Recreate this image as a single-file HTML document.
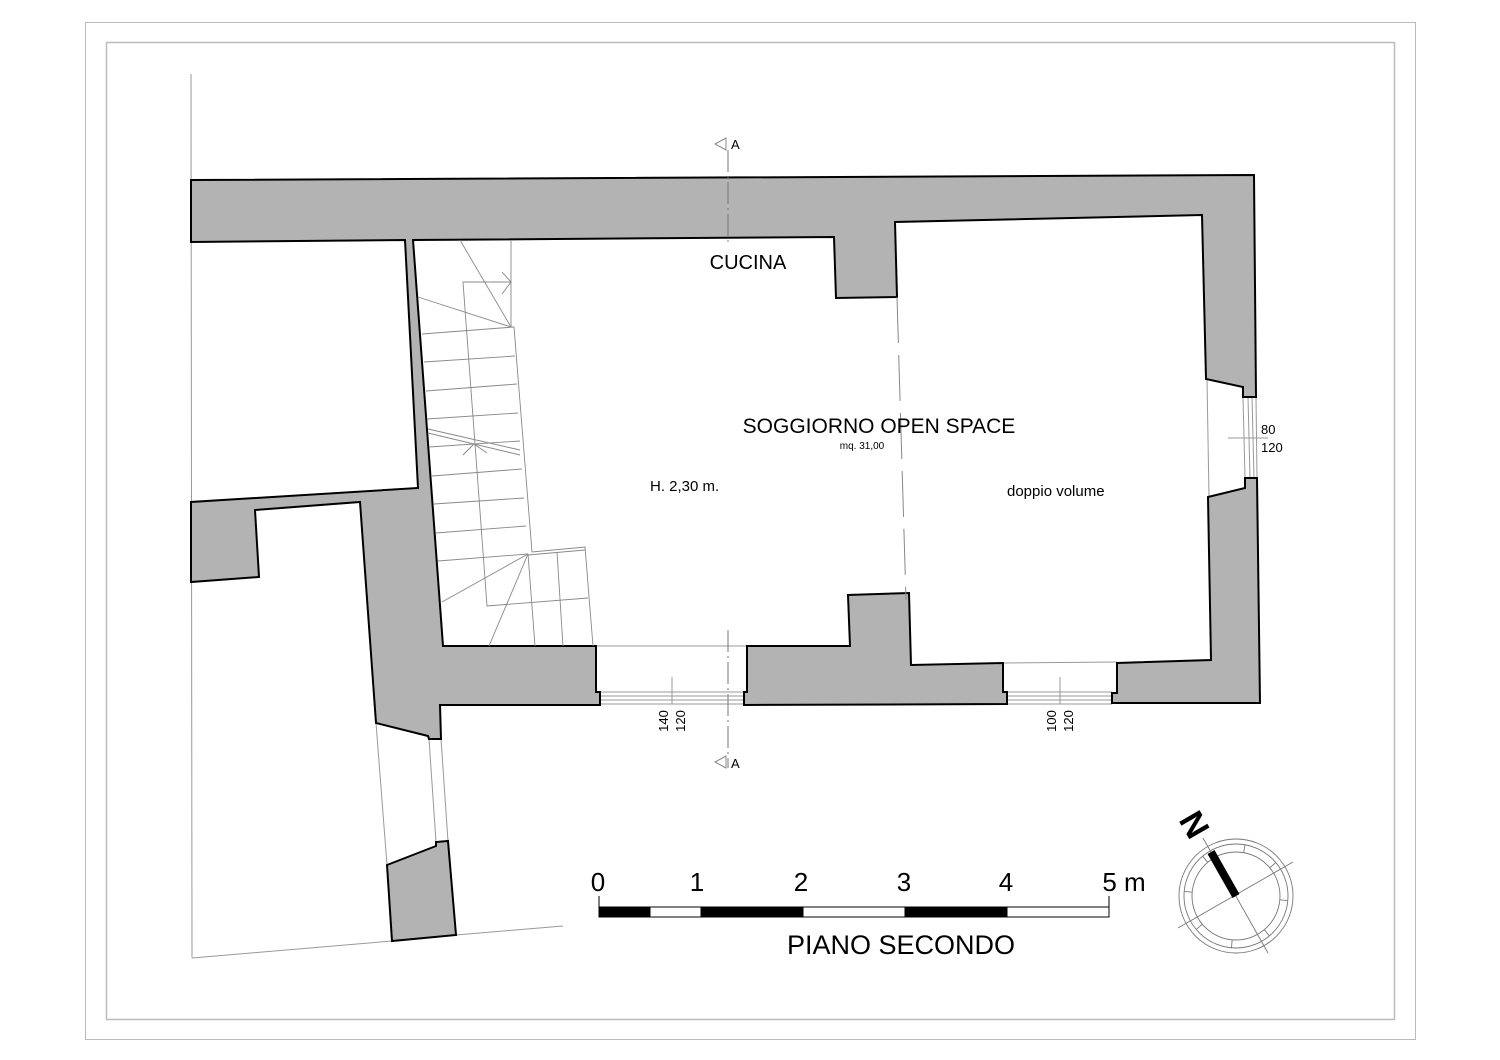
<!DOCTYPE html>
<html><head><meta charset="utf-8"><style>
html,body{margin:0;padding:0;background:#fff;}
svg{display:block;}
text{font-family:"Liberation Sans",Arial,sans-serif;fill:#000;}
</style></head><body>
<svg width="1500" height="1060" viewBox="0 0 1500 1060" xmlns="http://www.w3.org/2000/svg">
<rect x="85.5" y="22.5" width="1330" height="1017" fill="none" stroke="#bbb" stroke-width="1"/>
<rect x="106.5" y="42.5" width="1288" height="977" fill="none" stroke="#bbb" stroke-width="1.5"/>

<g stroke="#999" stroke-width="1" fill="none">
<line x1="191" y1="74" x2="192" y2="958"/>
<line x1="192" y1="958" x2="392" y2="941"/>
<line x1="456" y1="935" x2="563" y2="926"/>
<line x1="376" y1="723" x2="387" y2="865"/>
<line x1="429" y1="739" x2="436" y2="842"/>
<line x1="441" y1="739" x2="448" y2="841"/>
<line x1="596" y1="646" x2="747" y2="646"/>
<line x1="1003" y1="663" x2="1117" y2="662"/>
<line x1="1207" y1="379" x2="1209" y2="497"/>
<line x1="600" y1="696" x2="744" y2="696"/>
<line x1="600" y1="700" x2="744" y2="700"/>
<line x1="600" y1="692" x2="744" y2="692"/>
<line x1="600" y1="704" x2="744" y2="704"/>
<line x1="1007" y1="692" x2="1112" y2="692"/>
<line x1="1007" y1="696" x2="1112" y2="696"/>
<line x1="1007" y1="700" x2="1112" y2="700"/>
<line x1="1007" y1="704" x2="1112" y2="704"/>
<line x1="1243" y1="397" x2="1245" y2="478"/>
<line x1="1248" y1="397" x2="1250" y2="478"/>
<line x1="1252" y1="397" x2="1254" y2="478"/>
<line x1="1256" y1="397" x2="1257" y2="478"/>
<line x1="672" y1="677" x2="672" y2="704"/>
<line x1="1060" y1="677" x2="1060" y2="704"/>
<line x1="1228" y1="438" x2="1268" y2="438"/>
</g>

<g fill="#b3b3b3" stroke="#000" stroke-width="2" stroke-linejoin="miter">
<polygon points="191,180 1254,175 1256,397 1243,397 1243,387 1206,379 1202,215 895,222 897,297 836,298 834,237 413,240 443,646 596,646 596,692 600,692 600,705 440,705 441,739 429,739 428,736 376,723 360,502 255,510 259,577 191,582 191,502 418,488 405,240 191,242"/>
<polygon points="747,646 850,646 848,595 909,593 911,665 1003,663 1003,692 1007,692 1007,704 744,705 744,692 747,692"/>
<polygon points="1208,497 1245,488 1245,478 1257,478 1260,703 1112,703 1112,693 1117,693 1117,663 1211,660"/>
<polygon points="387,865 436,846 436,842 448,841 456,935 392,941"/>
</g>

<g stroke="#888" stroke-width="0.9" fill="none">
<polyline points="511,240 511,327"/>
<polyline points="514,327 532,552 585,547 593,646"/>
<line x1="528" y1="555" x2="585" y2="550"/>
<polyline points="511,282 463,282 487,606 588,598"/>
<line x1="460" y1="240" x2="511" y2="327"/>
<line x1="418" y1="297" x2="511" y2="327"/>
<line x1="422" y1="334" x2="514" y2="327"/>
<line x1="424" y1="362" x2="515" y2="356"/>
<line x1="426" y1="391" x2="517" y2="384"/>
<line x1="427" y1="419" x2="518" y2="413"/>
<line x1="428" y1="429" x2="520" y2="450"/>
<line x1="428" y1="433" x2="520" y2="455"/>
<line x1="429" y1="447" x2="520" y2="441"/>
<line x1="432" y1="476" x2="522" y2="469"/>
<line x1="434" y1="504" x2="524" y2="498"/>
<line x1="436" y1="533" x2="526" y2="526"/>
<line x1="438" y1="561" x2="528" y2="554"/>
<line x1="528" y1="554" x2="442" y2="602"/>
<line x1="528" y1="554" x2="489" y2="646"/>
<line x1="528" y1="554" x2="535" y2="646"/>
<line x1="557" y1="552" x2="563" y2="646"/>
<polyline points="463,455 474,444 487,453"/>
<polyline points="502,272 511,282 502,294"/>
</g>

<g stroke="#777" stroke-width="1" fill="none" stroke-dasharray="22,4,2,4">
<line x1="728" y1="150" x2="728" y2="246"/>
<line x1="728" y1="630" x2="728" y2="768"/>
</g>
<line x1="897" y1="297" x2="906" y2="600" stroke="#888" stroke-width="1" stroke-dasharray="46,12"/>
<g stroke="#888" stroke-width="1" fill="#fff">
<polygon points="715,144 726,138 726,150"/>
<polygon points="715,762 726,756 726,768"/>
</g>
<text x="731" y="149" font-size="13">A</text>
<text x="731" y="768" font-size="13">A</text>

<text x="748" y="269" font-size="20" text-anchor="middle">CUCINA</text>
<text x="879" y="433" font-size="21" text-anchor="middle">SOGGIORNO OPEN SPACE</text>
<text x="862" y="449" font-size="10" text-anchor="middle">mq. 31,00</text>
<text x="650" y="491" font-size="15">H. 2,30 m.</text>
<text x="1007" y="496" font-size="15">doppio volume</text>
<text x="1261" y="434" font-size="13">80</text>
<text x="1261" y="452" font-size="13">120</text>
<text transform="translate(668,721) rotate(-90)" font-size="13" text-anchor="middle">140</text>
<text transform="translate(685,721) rotate(-90)" font-size="13" text-anchor="middle">120</text>
<text transform="translate(1056,721) rotate(-90)" font-size="13" text-anchor="middle">100</text>
<text transform="translate(1073,721) rotate(-90)" font-size="13" text-anchor="middle">120</text>

<g stroke="#000" stroke-width="1">
<line x1="599" y1="896" x2="599" y2="917"/>
<line x1="1109" y1="896" x2="1109" y2="917"/>
<rect x="599" y="907" width="51" height="10" fill="#000"/>
<rect x="650" y="907" width="51" height="10" fill="#fff"/>
<rect x="701" y="907" width="102" height="10" fill="#000"/>
<rect x="803" y="907" width="102" height="10" fill="#fff"/>
<rect x="905" y="907" width="102" height="10" fill="#000"/>
<rect x="1007" y="907" width="102" height="10" fill="#fff"/>
</g>
<g font-size="26" text-anchor="middle">
<text x="598" y="891">0</text>
<text x="697" y="891">1</text>
<text x="801" y="891">2</text>
<text x="904" y="891">3</text>
<text x="1006" y="891">4</text>
<text x="1124" y="891">5 m</text>
</g>
<text x="901" y="954" font-size="27" text-anchor="middle">PIANO SECONDO</text>

<g stroke="#777" stroke-width="0.9" fill="none">
<circle cx="1236" cy="896" r="57"/>
<circle cx="1236" cy="896" r="52"/>
<circle cx="1236" cy="896" r="44"/>
<line x1="1203" y1="838" x2="1268" y2="953"/>
<line x1="1178" y1="928" x2="1293" y2="862"/>
<g transform="translate(1236,896)">
<line x1="0" y1="-44" x2="0" y2="-52" transform="rotate(10)"/>
<line x1="0" y1="-44" x2="0" y2="-52" transform="rotate(50)"/>
<line x1="0" y1="-44" x2="0" y2="-52" transform="rotate(95)"/>
<line x1="0" y1="-44" x2="0" y2="-52" transform="rotate(140)"/>
<line x1="0" y1="-44" x2="0" y2="-52" transform="rotate(185)"/>
<line x1="0" y1="-44" x2="0" y2="-52" transform="rotate(230)"/>
<line x1="0" y1="-44" x2="0" y2="-52" transform="rotate(275)"/>
<line x1="0" y1="-44" x2="0" y2="-52" transform="rotate(320)"/>
</g>
</g>
<line x1="1211" y1="852" x2="1236" y2="896" stroke="#000" stroke-width="8"/>
<text transform="translate(1192,826) rotate(60)" font-size="34" font-weight="bold" text-anchor="middle" dominant-baseline="middle">N</text>
</svg>
</body></html>
